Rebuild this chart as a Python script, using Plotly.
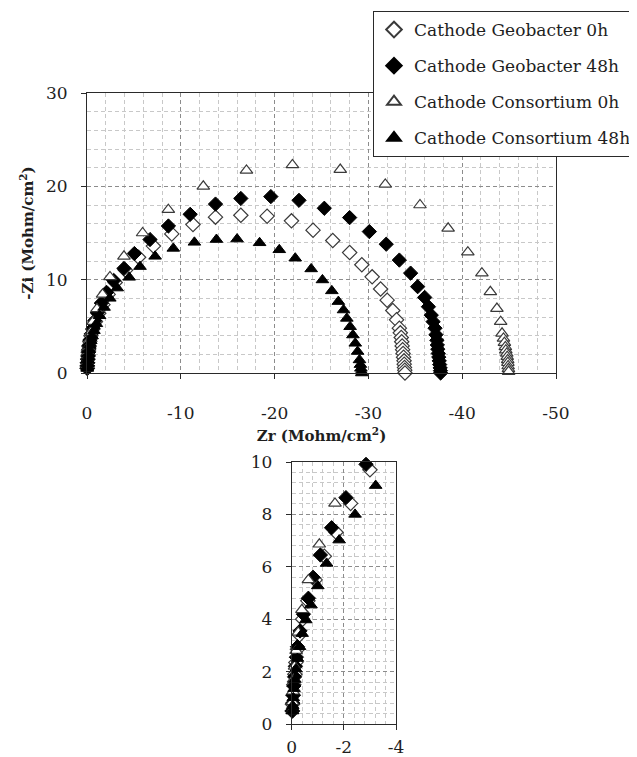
import plotly.graph_objects as go

# ---------------- data ----------------
series_names = ["Cathode Geobacter 0h", "Cathode Geobacter 48h",
                "Cathode Consortium 0h", "Cathode Consortium 48h"]

geo0_zr = [-0.02, -0.03, -0.05, -0.08, -0.12, -0.16, -0.22, -0.30, -0.42, -0.62,
           -0.90, -1.25, -1.70, -2.26, -3.00, -4.10, -5.50, -7.08, -9.04, -11.3,
           -13.7, -16.4, -19.2, -21.8, -24.1, -26.2, -28.0, -29.3, -30.4, -31.3,
           -32.0, -32.6, -33.0, -33.3, -33.4, -33.5, -33.55, -33.6, -33.65, -33.7,
           -33.75, -33.8, -33.82, -33.85, -33.88, -33.9]
geo0_zi = [0.5, 0.75, 1.1, 1.5, 1.9, 2.35, 2.85, 3.4, 4.0, 4.7,
           5.5, 6.4, 7.32, 8.42, 9.7, 11.0, 12.4, 13.6, 14.9, 15.9,
           16.7, 16.9, 16.8, 16.3, 15.3, 14.2, 12.9, 11.6, 10.3, 9.0,
           7.8, 6.7, 5.7, 4.8, 4.3, 3.8, 3.35, 2.9, 2.5, 2.1,
           1.7, 1.3, 0.95, 0.6, 0.3, 0.0]

geo48_zr = [-0.03, -0.04, -0.06, -0.08, -0.11, -0.14, -0.18, -0.22, -0.32, -0.45,
            -0.64, -0.82, -1.10, -1.53, -2.08, -2.85, -3.94, -5.05, -6.72, -8.68,
            -11.0, -13.7, -16.4, -19.6, -22.6, -25.3, -28.0, -30.1, -31.9, -33.3,
            -34.5, -35.25, -36.0, -36.4, -36.7, -36.9, -37.1, -37.2, -37.3, -37.35,
            -37.4, -37.45, -37.5, -37.55, -37.6, -37.65, -37.68, -37.7]
geo48_zi = [0.5, 0.8, 1.1, 1.45, 1.8, 2.2, 2.55, 2.95, 3.55, 4.19,
            4.8, 5.6, 6.45, 7.49, 8.64, 9.91, 11.2, 12.8, 14.3, 15.75,
            17.0, 18.1, 18.7, 18.9, 18.5, 17.65, 16.65, 15.15, 13.8, 12.1,
            10.7, 9.25, 8.1, 7.1, 6.2, 5.5, 4.8, 4.1, 3.5, 3.0,
            2.55, 2.1, 1.7, 1.3, 0.9, 0.55, 0.25, 0.0]

cons0_zr = [-0.02, -0.03, -0.05, -0.07, -0.11, -0.17, -0.25, -0.39, -0.64, -1.06,
            -1.66, -2.45, -3.94, -5.93, -8.67, -12.4, -17.0, -21.9, -27.0, -31.8,
            -35.5, -38.5, -40.6, -42.1, -43.0, -43.7, -44.1, -44.25, -44.4, -44.5,
            -44.6, -44.65, -44.75, -44.8, -44.85, -44.87, -44.9, -44.93, -44.95]
cons0_zi = [0.5, 0.85, 1.25, 1.7, 2.2, 2.8, 3.5, 4.36, 5.5, 6.86,
            8.42, 10.3, 12.5, 15.0, 17.5, 20.0, 21.7, 22.3, 21.8, 20.2,
            18.0, 15.5, 12.95, 10.7, 8.7, 6.9, 5.5, 4.25, 3.7, 3.25,
            2.8, 2.45, 2.1, 1.75, 1.4, 1.1, 0.75, 0.45, 0.15]

cons48_zr = [-0.03, -0.04, -0.06, -0.09, -0.12, -0.16, -0.22, -0.30, -0.40, -0.54,
             -0.74, -1.00, -1.34, -1.82, -2.43, -3.22, -4.50, -5.65, -7.26, -9.2,
             -11.45, -13.8, -16.0, -18.4, -20.5, -22.2, -23.9, -25.1, -26.1, -26.8,
             -27.35, -27.7, -28.05, -28.35, -28.6, -28.85, -29.05, -29.15, -29.2, -29.25,
             -29.3]
cons48_zi = [0.5, 0.7, 1.0, 1.35, 1.7, 2.1, 2.5, 2.95, 3.45, 3.97,
             4.54, 5.27, 6.13, 7.02, 8.0, 9.1, 10.25, 11.4, 12.5, 13.35,
             14.0, 14.3, 14.35, 13.95, 13.2, 12.3, 11.15, 9.97, 8.8, 7.65,
             6.75, 5.85, 4.96, 4.07, 3.18, 2.3, 1.4, 0.9, 0.5, 0.2,
             0.0]

main_xticks = [0, -10, -20, -30, -40, -50]
main_xticklabels = ["0", "-10", "-20", "-30", "-40", "-50"]
main_yticks = [0, 10, 20, 30]
inset_xticks = [0, -2, -4]
inset_xticklabels = ["0", "-2", "-4"]
inset_yticks = [0, 2, 4, 6, 8, 10]

# ---------------- styling ----------------
OFF = 8                      # page body margin of the html page
W, H = 637 - OFF, 757 - OFF
FONT = "DejaVu Serif"
TXT = "#1e1e1e"
styles = [
    dict(symbol="diamond", color="white", line=dict(color="#3a3a3a", width=1.2)),
    dict(symbol="diamond", color="black", line=dict(color="black", width=1)),
    dict(symbol="triangle-up", color="white", line=dict(color="#3a3a3a", width=1.2)),
    dict(symbol="triangle-up", color="black", line=dict(color="black", width=1)),
]
data = [(geo0_zr, geo0_zi), (geo48_zr, geo48_zi), (cons0_zr, cons0_zi), (cons48_zr, cons48_zi)]

fig = go.Figure()
for name, (zr, zi), st in zip(series_names, data, styles):
    fig.add_trace(go.Scatter(
        x=zr, y=zi, mode="markers", name=name, legendgroup=name,
        marker=dict(size=11, **st), cliponaxis=False, xaxis="x", yaxis="y"))
# inset (zoom of the high-frequency region)
for name, (zr, zi), st in zip(series_names, data, styles):
    pts = [(a, b) for a, b in zip(zr, zi) if a >= -4.2 and b <= 10.3]
    fig.add_trace(go.Scatter(
        x=[p[0] for p in pts], y=[p[1] for p in pts], mode="markers",
        showlegend=False, legendgroup=name,
        marker=dict(size=11, **st), cliponaxis=False, xaxis="x2", yaxis="y2"))

def px_x(p):
    return (p - OFF) / W

def px_y(p):
    return 1 - (p - OFF) / H

DASH = "4px,3px"
axis_common = dict(
    showline=True, linecolor="#2a2a2a", linewidth=1, mirror=True,
    ticks="outside", ticklen=5, tickcolor="#2a2a2a", automargin=False,
    showgrid=True, gridcolor="#8c8c8c", griddash=DASH, gridwidth=1,
    zeroline=False, tickfont=dict(family=FONT, size=17, color=TXT),
)
minor_main = dict(dtick=2, tick0=0, showgrid=True, gridcolor="#c8c8c8", griddash=DASH, ticks="")
minor_inset = dict(dtick=0.4, tick0=0, showgrid=True, gridcolor="#c8c8c8", griddash=DASH, ticks="")

fig.update_layout(
    width=W, height=H,
    margin=dict(l=0, r=0, t=0, b=0, autoexpand=False),
    paper_bgcolor="white", plot_bgcolor="white",
    showlegend=True,
    xaxis=dict(domain=[px_x(87), px_x(556)], range=[0, -50],
               tickvals=main_xticks, ticktext=main_xticklabels,
               minor=minor_main, ticklabelstandoff=20, anchor="y",
               title=dict(text="<b>Zr (Mohm/cm<sup>2</sup>)</b>", standoff=8,
                          font=dict(family=FONT, size=15, color=TXT)),
               **axis_common),
    yaxis=dict(domain=[px_y(373), px_y(93)], range=[0, 30],
               tickvals=main_yticks,
               minor=minor_main, ticklabelstandoff=10, anchor="x",
               title=dict(text="<b>-Zi (Mohm/cm<sup>2</sup>)</b>", standoff=8,
                          font=dict(family=FONT, size=15, color=TXT)),
               **axis_common),
    xaxis2=dict(domain=[px_x(291.7), px_x(396)], range=[0, -4],
                tickvals=inset_xticks, ticktext=inset_xticklabels,
                minor=minor_inset, ticklabelstandoff=3, anchor="y2",
                **axis_common),
    yaxis2=dict(domain=[px_y(724), px_y(462)], range=[0, 10],
                tickvals=inset_yticks,
                minor=minor_inset, ticklabelstandoff=10, anchor="x2",
                **axis_common),
    legend=dict(x=px_x(373), y=px_y(11), xanchor="left", yanchor="top",
                bgcolor="white", bordercolor="#2a2a2a", borderwidth=1,
                font=dict(family=FONT, size=17, color=TXT),
                tracegroupgap=11, itemsizing="constant"),
)

fig.write_html("out.html")
